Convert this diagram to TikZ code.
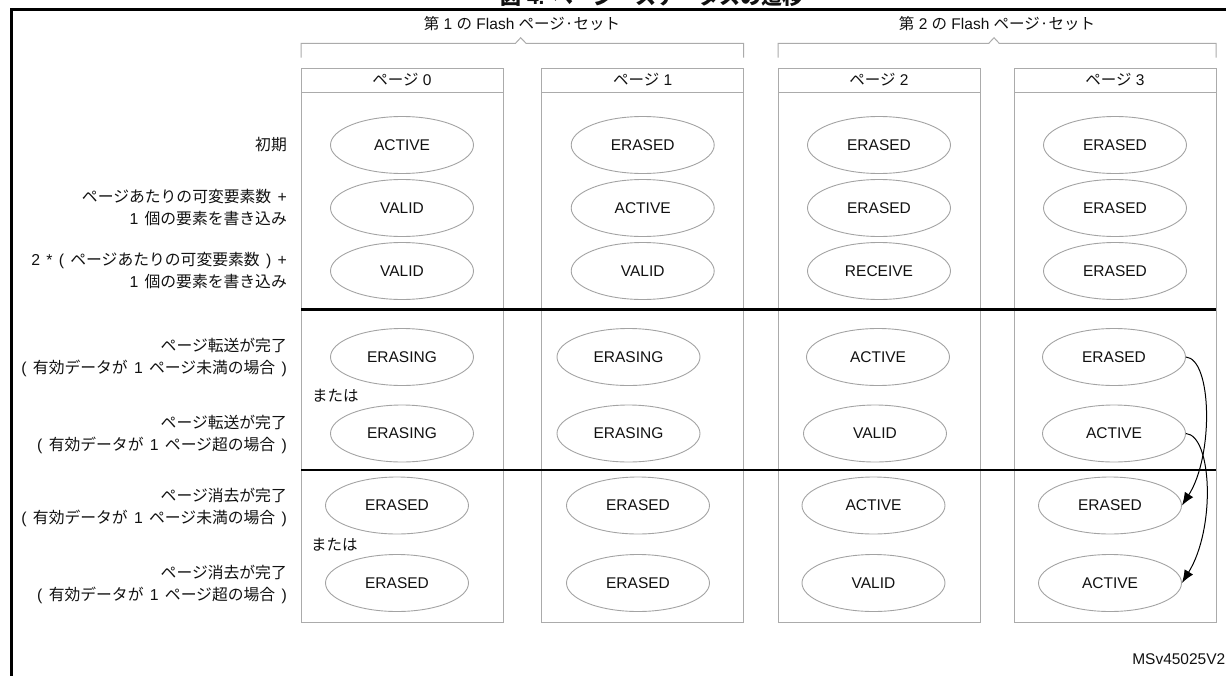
\documentclass[tikz,border=0pt]{standalone}
\usepackage{fontspec}
\setmainfont{Liberation Sans}
\newfontfamily\jp{Noto Sans CJK JP}
\newcommand{\J}[1]{{\jp #1}}
\newcommand{\widesp}{\spaceskip 6.3pt\relax}
\usetikzlibrary{shapes.geometric,arrows.meta,calc}
\definecolor{frm}{HTML}{ABABAB}
\definecolor{ell}{HTML}{A3A3A3}
\definecolor{txt}{HTML}{111111}
\begin{document}
\begin{tikzpicture}[x=1pt,y=-1pt,
  every node/.style={font=\fontsize{15.5}{22}\selectfont, text=txt},
  st/.style={ellipse, draw=ell, line width=0.9pt, minimum width=143pt, minimum height=57pt, inner sep=0pt},
  hdr/.style={rectangle, draw=frm, line width=1pt, minimum width=202pt, minimum height=24pt, inner sep=0pt},
  body/.style={rectangle, draw=frm, line width=1pt, minimum width=202pt, minimum height=530pt, inner sep=0pt},
  lbl/.style={anchor=east, align=right, inner sep=0pt, font=\fontsize{15.8}{22}\selectfont\widesp},
  ortxt/.style={anchor=west, inner sep=0pt},
  sep/.style={line width=2.6pt, black},
  brk/.style={draw=frm, line width=1pt},
  arr/.style={-{Latex[length=13pt,width=10pt]}, line width=1pt, black}
]
\useasboundingbox (0,0) rectangle (1226,675);
% outer frame (cut)
\draw[line width=2.7pt, black] (11.3,680) -- (11.3,9.2) -- (1230,9.2);
% title (clipped at top)
\node[anchor=base west, inner sep=0pt, font=\fontsize{21}{24}\selectfont\bfseries] (title) at (500,4.5) {{\jp\bfseries 図} 4. {\jp\bfseries ページ・ステータスの遷移}};

% set labels and brackets
\node (set1) at (522,24) {\J{第} 1 \J{の} Flash \J{ページ·セット}};
\node (set2) at (997,24) {\J{第} 2 \J{の} Flash \J{ページ·セット}};
\draw[brk] (301,57.7) -- (301,43.3) -- (515.5,43.3) -- (520.7,37.7) -- (526,43.3) -- (743.5,43.3) -- (743.5,57.7);
\draw[brk] (778,57.7) -- (778,43.3) -- (988.8,43.3) -- (994,37.7) -- (999.2,43.3) -- (1216,43.3) -- (1216,57.7);

% columns
\foreach \i/\cx in {0/402,1/642.7,2/879,3/1115}{
  \node[body] (b\i) at (\cx,357) {};
  \node[hdr] (h\i) at (\cx,80) {\J{ページ} \i};
}

% separators
\draw[sep] (301,309.3) -- (1216,309.3);
\draw[sep] (301,470) -- (1216,470);

% row labels
\node[lbl] (l1) at (287,145) {\J{初期}};
\node[lbl] (l2) at (287,208) {\J{ページあたりの可変要素数} +\\1 \J{個の要素を書き込み}};
\node[lbl] (l3) at (287,271) {2 * ( \J{ページあたりの可変要素数} ) +\\1 \J{個の要素を書き込み}};
\node[lbl] (l4) at (287,357) {\J{ページ転送が完了}\\( \J{有効データが} 1 \J{ページ未満の場合} )};
\node[lbl] (l5) at (287,434) {\J{ページ転送が完了}\\( \J{有効データが} 1 \J{ページ超の場合} )};
\node[lbl] (l6) at (287,507) {\J{ページ消去が完了}\\( \J{有効データが} 1 \J{ページ未満の場合} )};
\node[lbl] (l7) at (287,584) {\J{ページ消去が完了}\\( \J{有効データが} 1 \J{ページ超の場合} )};

\node[ortxt] (or1) at (312,396) {\J{または}};
\node[ortxt] (or2) at (311,545) {\J{または}};

% states
\node[st] (e10) at (402,145) {ACTIVE};
\node[st] (e11) at (642.7,145) {ERASED};
\node[st] (e12) at (879,145) {ERASED};
\node[st] (e13) at (1115,145) {ERASED};

\node[st] (e20) at (402,208) {VALID};
\node[st] (e21) at (642.7,208) {ACTIVE};
\node[st] (e22) at (879,208) {ERASED};
\node[st] (e23) at (1115,208) {ERASED};

\node[st] (e30) at (402,271) {VALID};
\node[st] (e31) at (642.7,271) {VALID};
\node[st] (e32) at (879,271) {RECEIVE};
\node[st] (e33) at (1115,271) {ERASED};

\node[st] (e40) at (402,357) {ERASING};
\node[st] (e41) at (628.5,357) {ERASING};
\node[st] (e42) at (878,357) {ACTIVE};
\node[st] (e43) at (1114,357) {ERASED};

\node[st] (e50) at (402,433.5) {ERASING};
\node[st] (e51) at (628.5,433.5) {ERASING};
\node[st] (e52) at (875,433.5) {VALID};
\node[st] (e53) at (1114,433.5) {ACTIVE};

\node[st] (e60) at (397,505.5) {ERASED};
\node[st] (e61) at (638,505.5) {ERASED};
\node[st] (e62) at (873.5,505.5) {ACTIVE};
\node[st] (e63) at (1110,505.5) {ERASED};

\node[st] (e70) at (397,583) {ERASED};
\node[st] (e71) at (638,583) {ERASED};
\node[st] (e72) at (873.5,583) {VALID};
\node[st] (e73) at (1110,583) {ACTIVE};

% transitions
\draw[arr] (e43.east) .. controls +(26,2) and +(32,-50) .. (e63.east);
\draw[arr] (e53.east) .. controls +(26,2) and +(34,-55) .. (e73.east);

\node[anchor=east, inner sep=0pt] (ms) at (1225.5,659) {MSv45025V2};
\end{tikzpicture}
\end{document}
